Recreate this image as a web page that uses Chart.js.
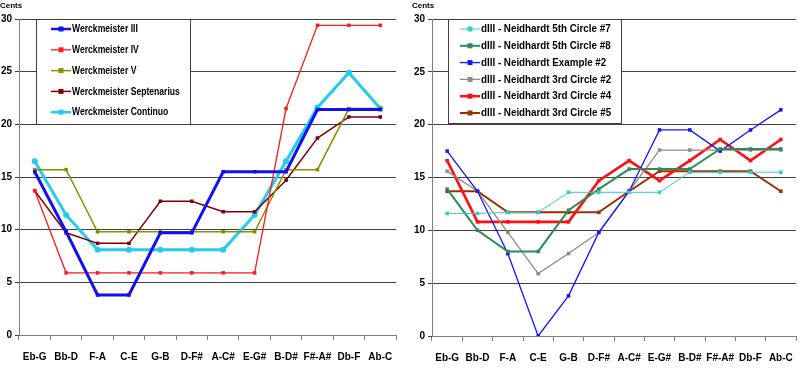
<!DOCTYPE html>
<html>
<head>
<meta charset="utf-8">
<script src="https://cdn.jsdelivr.net/npm/chart.js@4.4.1/dist/chart.umd.min.js"></script>
<style>
  html, body { margin: 0; padding: 0; background: #fff; }
  .wrap { display: flex; width: 800px; height: 369px; }
  .box { position: relative; width: 400px; height: 369px; }
</style>
</head>
<body>
<div class="wrap">
  <div class="box"><canvas id="leftChart" width="400" height="369"></canvas></div>
  <div class="box"><canvas id="rightChart" width="400" height="369"></canvas></div>
</div>
<script>
// ─── DATA ─────────────────────────────────────────
const CATEGORIES = ['Eb-G', 'Bb-D', 'F-A', 'C-E', 'G-B', 'D-F#', 'A-C#', 'E-G#', 'B-D#', 'F#-A#', 'Db-F', 'Ab-C'];
const Y_TICKS = [0, 5, 10, 15, 20, 25, 30];
const Y_TITLE = 'Cents';

// left chart
const werck3     = [15.5, 9.8, 3.8, 3.8, 9.7, 9.7, 15.5, 15.5, 15.5, 21.4, 21.4, 21.4];
const werck4     = [13.7, 5.9, 5.9, 5.9, 5.9, 5.9, 5.9, 5.9, 21.5, 29.4, 29.4, 29.4];
const werck5     = [15.7, 15.7, 9.8, 9.8, 9.8, 9.8, 9.8, 9.8, 15.7, 15.7, 21.5, 21.5];
const septenar   = [13.7, 9.7, 8.7, 8.7, 12.7, 12.7, 11.7, 11.7, 14.7, 18.7, 20.7, 20.7];
const continuo   = [16.5, 11.4, 8.1, 8.1, 8.1, 8.1, 8.1, 11.4, 16.5, 21.6, 24.9, 21.5];

// right chart
const nh5th7     = [11.6, 11.6, 11.7, 11.7, 13.6, 13.6, 13.6, 13.6, 15.5, 15.5, 15.5, 15.5];
const nh5th8     = [13.9, 10.0, 8.0, 8.0, 11.9, 13.9, 15.8, 15.8, 15.8, 17.7, 17.7, 17.7];
const nhEx2      = [17.5, 13.7, 7.8, 0.0, 3.8, 9.8, 13.7, 19.5, 19.5, 17.5, 19.5, 21.4];
const nh3rd2     = [15.6, 13.7, 9.8, 5.9, 7.8, 9.8, 13.7, 17.6, 17.6, 17.6, 17.6, 17.6];
const nh3rd4     = [16.6, 10.8, 10.8, 10.8, 10.8, 14.7, 16.6, 14.7, 16.6, 18.6, 16.6, 18.6];
const nh3rd5     = [13.7, 13.7, 11.7, 11.7, 11.7, 11.7, 13.7, 15.6, 15.6, 15.6, 15.6, 13.7];

// ─── DEFAULTS ─────────────────────────────────────
const FONT = "'Liberation Sans', Arial, sans-serif";
Chart.defaults.font.family = FONT;
Chart.defaults.font.size = 10;
Chart.defaults.font.weight = 'bold';
Chart.defaults.color = '#000';

function series(label, data, color, width, style) {
  return {
    label, data,
    borderColor: color,
    backgroundColor: color,
    borderWidth: width,
    pointStyle: style || 'rect',
    pointRadius: style === 'circle' ? 3 : 2.5,
    pointBorderWidth: 0,
    tension: 0
  };
}

// Legend drawn inside the plot, boxed (like the spreadsheet original)
const boxLegend = {
  id: 'boxLegend',
  afterDraw(chart, args, opts) {
    const ctx = chart.ctx;
    ctx.save();
    ctx.fillStyle = '#fff';
    ctx.fillRect(opts.x, opts.y, opts.w, opts.h);
    ctx.strokeStyle = '#404040';
    ctx.lineWidth = 1;
    ctx.strokeRect(opts.x + 0.5, opts.y + 0.5, opts.w, opts.h);
    ctx.font = 'bold 10px ' + FONT;
    ctx.textBaseline = 'middle';
    chart.data.datasets.forEach((ds, i) => {
      const y = opts.y + opts.first + i * opts.row;
      const x0 = opts.x + opts.lineX;
      ctx.strokeStyle = ds.borderColor;
      ctx.lineWidth = Math.min(ds.borderWidth, 2.5);
      ctx.beginPath();
      ctx.moveTo(x0, y);
      ctx.lineTo(x0 + 20, y);
      ctx.stroke();
      ctx.fillStyle = ds.borderColor;
      ctx.fillRect(x0 + 7.5, y - 2.5, 5, 5);
      ctx.fillStyle = '#000';
      ctx.save();
      ctx.translate(x0 + 21, y + 0.5);
      ctx.scale(opts.squeeze, 1);
      ctx.fillText(ds.label, 0, 0);
      ctx.restore();
    });
    ctx.restore();
  }
};

// "Cents" title at top-left
const yTitle = {
  id: 'yTitle',
  afterDraw(chart, args, opts) {
    const ctx = chart.ctx;
    ctx.save();
    ctx.font = 'bold 8px ' + FONT;
    ctx.fillStyle = '#000';
    ctx.textBaseline = 'middle';
    ctx.fillText(Y_TITLE, opts.x, 6);
    ctx.restore();
  }
};

function makeChart(id, datasets, lay) {
  return new Chart(document.getElementById(id), {
    type: 'line',
    data: { labels: CATEGORIES, datasets },
    plugins: [boxLegend, yTitle],
    options: {
      responsive: false,
      animation: false,
      layout: { padding: { top: 19, right: lay.right, left: 0, bottom: 0 } },
      plugins: {
        legend: { display: false },
        tooltip: { enabled: false },
        boxLegend: lay.legend,
        yTitle: { x: lay.titleX }
      },
      scales: {
        x: {
          offset: true,
          grid: { drawOnChartArea: false, offset: true, tickLength: 5, color: '#808080' },
          border: { color: '#808080' },
          ticks: { padding: 11, maxRotation: 0, autoSkip: false, font: { size: 10, weight: 'bold' } },
          afterFit: s => { s.height = lay.bottom; s.paddingLeft = 0; s.paddingRight = 0; }
        },
        y: {
          min: 0, max: 30,
          afterBuildTicks: s => { s.ticks = Y_TICKS.map(v => ({ value: v })); },
          grid: { color: '#404040', tickLength: 4, drawTicks: true },
          border: { color: '#808080' },
          ticks: { padding: 3, font: { size: 10, weight: 'bold' } },
          afterFit: s => { s.width = lay.left; }
        }
      }
    }
  });
}

makeChart('leftChart', [
  series('Werckmeister III', werck3, '#1010f0', 3),
  series('Werckmeister IV', werck4, '#ff1a1a', 1.3),
  series('Werckmeister V', werck5, '#8c8c00', 1.5),
  series('Werckmeister Septenarius', septenar, '#800000', 1.5),
  series('Werckmeister Continuo', continuo, '#22ccf0', 3, 'circle')
], {
  left: 19, right: 0, bottom: 34, titleX: 0,
  legend: { x: 36, y: 19, w: 154, h: 105, first: 10, row: 20.8, lineX: 15, squeeze: 0.86 }
});

makeChart('rightChart', [
  series('dIII - Neidhardt 5th Circle #7', nh5th7, '#33cccc', 1),
  series('dIII - Neidhardt 5th Circle #8', nh5th8, '#2e8b57', 2),
  series('dIII - Neidhardt Example #2', nhEx2, '#1414ff', 1.3),
  series('dIII - Neidhardt 3rd Circle #2', nh3rd2, '#8c8c8c', 1.3),
  series('dIII - Neidhardt 3rd Circle #4', nh3rd4, '#ff1010', 2.6),
  series('dIII - Neidhardt 3rd Circle #5', nh3rd5, '#9a3000', 2)
], {
  left: 32, right: 1, bottom: 33, titleX: 12,
  legend: { x: 48, y: 19, w: 173, h: 104, first: 10, row: 16.8, lineX: 12, squeeze: 0.98 }
});
</script>
</body>
</html>
